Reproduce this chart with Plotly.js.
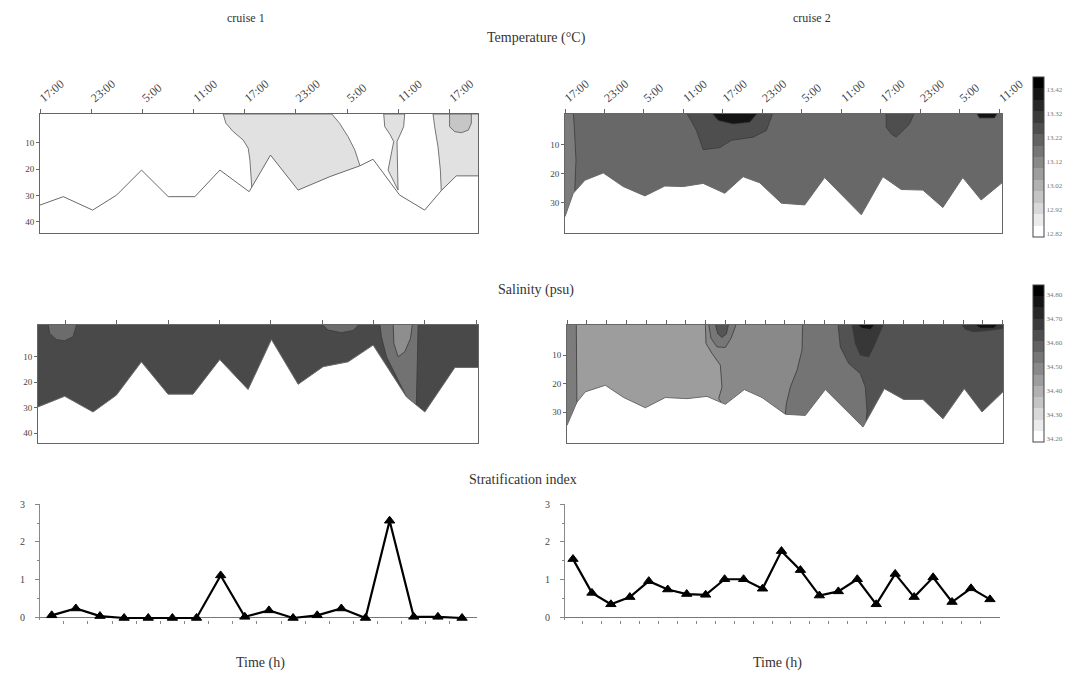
<!DOCTYPE html>
<html><head><meta charset="utf-8">
<script src="https://cdn.plot.ly/plotly-3.0.1.min.js"></script>
<style>body{margin:0;background:#fff}#chart{width:1080px;height:677px}</style>
</head><body><div id="chart"></div>
<script>
// ================= DATA =================
// time axis ticks (hours after first 17:00)
const tickHours1 = [0, 6, 12, 18, 24, 30, 36, 42, 48];
const tickLabels1 = ['17:00','23:00','5:00','11:00','17:00','23:00','5:00','11:00','17:00'];
const tickHours2 = [0, 6, 12, 18, 24, 30, 36, 42, 48, 54, 60, 66];
const tickLabels2 = ['17:00','23:00','5:00','11:00','17:00','23:00','5:00','11:00','17:00','23:00','5:00','11:00'];
const depthTicks1 = [10, 20, 30, 40];
const depthTicks2 = [10, 20, 30];

// colorbar labels
const tempBarLabels = [12.82, 12.92, 13.02, 13.12, 13.22, 13.32, 13.42];
const salBarLabels = [34.20, 34.30, 34.40, 34.50, 34.60, 34.70, 34.80];

// ---- Temperature, cruise 1 (hours, depth m) ----
const t1BottomH = [0,2.73,6.17,8.98,11.9,15.03,18.15,21.08,24.51,27.01,30.25,33.96,37.47,39.03,42.15,45.08,47.03,48.79,51.33];
const t1BottomD = [33.6,30.4,35.5,29.8,20.3,30.4,30.4,20.3,28.5,14.6,27.9,22.8,18.7,16.2,29.8,35.5,28.1,22.5,22.5];
const t1ZoneAH = [21.47,21.78,22.64,23.81,24.4,24.6,24.8,24.8,37.7,37.5,36.9,36.1,35.1,34.2];
const t1ZoneAD = [-1,2.5,5.7,8.9,12.0,16.5,26.0,46,46,18.7,12.7,7.6,2.5,-1];
const t1ZoneBH = [40.28,40.4,41.06,41.45,40.79,41.96,41.84,42.15,42.62,42.74];
const t1ZoneBD = [-1,3.8,7.0,9.5,20.3,27.9,9.5,7.0,3.8,-1];
const t1ZoneCH = [46.06,46.25,46.64,46.92,47.03,47.03,53,53];
const t1ZoneCD = [-1,3.8,11.4,20.3,28.5,46,46,-1];
const t1CoreH = [48.0,48.0,48.6,49.4,50.2,50.55,50.55];
const t1CoreD = [-1,3.8,5.7,6.1,5.1,2.5,-1];

// ---- Temperature, cruise 2 ----
const t2BottomH = [0,1.26,3.03,5.82,8.85,12.14,15.17,17.96,20.99,24.28,27.06,29.59,32.88,36.42,39.45,45.02,48.3,51.09,54.38,57.41,60.44,63.23,66.41];
const t2BottomD = [34.8,26.8,22.3,19.8,24.5,27.7,24.3,24.5,23.4,26.8,21.1,23.2,30.2,30.8,21.4,34.2,21.1,25.5,25.7,31.7,21.4,29.1,23.2];
const t2StripH = [-1,1.26,1.42,1.67,1.52,1.4,-1];
const t2StripD = [-1,-1,4.1,15.5,23.4,45,45];
const t2WarmAH = [18.46,19.98,20.99,23.52,25.29,28.58,30.6,31.61];
const t2WarmAD = [-1,5.2,11.8,11.1,8.6,7.5,5.2,-1];
const t2HotAH = [22.26,23.27,25.54,28.07,29.34];
const t2HotAD = [-1,1.8,3.0,2.4,-1];
const t2WarmBH = [48.81,48.81,49.57,50.33,51.09,52.35,53.11];
const t2WarmBD = [-1,4.1,6.4,7.5,5.8,3.0,-1];
const t2HotBH = [62.47,62.97,65.25,65.75];
const t2HotBD = [-1,0.9,0.9,-1];

// ---- Salinity, cruise 1 ----
const s1BottomH = [0,3.12,6.43,9.15,12.08,15.19,18.11,21.23,24.54,27.27,30.39,33.31,36.23,39.15,43.05,45.19,48.7,51.42];
const s1BottomD = [29.7,25.5,31.7,25.1,12.0,24.7,24.7,11.1,22.9,3.2,20.8,13.9,12.0,5.4,25.8,31.7,14.2,14.2];
const s1FreshAH = [1.17,1.36,2.14,3.12,4.09,4.56];
const s1FreshAD = [-3,0.8,3.2,3.7,2.1,-3];
const s1FreshBH = [33.11,33.89,35.45,36.81,37.59];
const s1FreshBD = [-3,-0.5,0.5,-0.3,-3];
const s1FreshCH = [39.93,40.12,40.71,41.88,43.05,44.0,44.3,44.21,44.29,44.41];
const s1FreshCD = [-3,2.1,10,17.9,25.8,45,45,27.1,11.3,-3];
const s1FreshestH = [41.49,41.57,42.07,42.85,43.51,43.75];
const s1FreshestD = [-3,4.7,10,8.0,2.8,-3];

// ---- Salinity, cruise 2 ----
const s2BottomH = [0,1.52,2.78,5.81,8.59,11.87,14.9,18.18,21.21,23.99,26.87,29.55,33.08,36.11,39.14,44.85,48.08,51.01,53.94,56.97,60.2,62.88,66.06];
const s2BottomD = [34.7,26.5,22.9,20.6,24.9,28.5,24.9,25.3,24.5,27.3,22.1,24.9,30.8,31.2,22.1,35.3,21.8,25.6,25.6,32.4,21.8,30.0,22.9];
const s2Iso1H = [20.96,21.06,21.97,23.23,23.48,22.98,23.64,23.64];
const s2Iso1D = [-1,5.9,9.4,13.5,21.2,25.3,27.6,45];
const s2Iso2H = [35.71,35.61,34.85,33.84,33.23,33.08,33.08];
const s2Iso2D = [-1,8.2,15.3,21.2,27.1,30.8,45];
const s2Iso3H = [41.06,41.41,42.68,44.44,45.2,45.45,45.3,45.3];
const s2Iso3D = [-1,7.1,12.9,16.5,21.2,29.4,34.1,45];
const s2StripH = [-1,1.41,1.5,1.5,-1];
const s2StripD = [-1,-1,26.5,45,45];
const s2PatchH = [21.46,21.82,22.73,23.99,24.85,25.66];
const s2PatchD = [-1,4.1,7.1,7.3,4.1,-1];
const s2PatchCoreH = [22.47,22.83,23.48,24.14,24.49];
const s2PatchCoreD = [-1,2.4,3.8,2.6,-1];
const s2SaltH = [43.18,43.69,44.44,45.71,46.46,47.47,47.98];
const s2SaltD = [-1,5.9,10,10.6,7.1,1.2,-1];
const s2SaltCoreH = [43.94,44.7,45.96,46.72];
const s2SaltCoreD = [-1,0.6,1.0,-1];
const s2SurfH = [59.7,60.35,61.62,63.64,66.06,67,67];
const s2SurfD = [-1,0.9,1.8,1.4,0.6,0.6,-1];
const s2SurfCoreH = [61.62,62.63,64.65,65.4];
const s2SurfCoreD = [-1,0.55,0.55,-1];

// ---- Stratification index ----
const strat1Station = [1,2,3,4,5,6,7,8,9,10,11,12,13,14,15,16,17,18];
const strat1 = [0.07,0.25,0.05,0,0,0,0,1.12,0.03,0.2,0,0.07,0.25,0,2.56,0.03,0.03,0];
const strat2Station = [1,2,3,4,5,6,7,8,9,10,11,12,13,14,15,16,17,18,19,20,21,22,23];
const strat2 = [1.55,0.66,0.36,0.55,0.97,0.75,0.63,0.61,1.02,1.02,0.77,1.76,1.26,0.59,0.70,1.02,0.36,1.16,0.55,1.07,0.42,0.78,0.49];

// ================= LAYOUT HELPERS =================
const W = 1080, H = 677;
const dx = (a, b) => [a / W, b / W];
const dy = (top, bot) => [1 - bot / H, 1 - top / H];
const FONT = 'Liberation Serif, Times New Roman, serif';
const DEEP = 60; // closure depth below the seabed (hidden by the seabed mask)

function poly(h, d, fill, ax, lineColor) {
  return {type: 'scatter', mode: 'lines', x: h.concat([h[0]]), y: d.concat([d[0]]),
    fill: 'toself', fillcolor: fill, line: {color: lineColor || '#3a3a3a', width: 0.8},
    xaxis: ax[0], yaxis: ax[1], hoverinfo: 'skip', showlegend: false};
}
function leftOf(h, d, fill, ax, lineColor) {
  const hh = [-2].concat(h, [h[h.length - 1], -2]);
  const ddd = [d[0]].concat(d, [DEEP, DEEP]);
  return poly(hh, ddd, fill, ax, lineColor);
}
function seabed(h, d, ax) {
  const hh = [-2].concat(h, [h[h.length - 1] + 2, h[h.length - 1] + 2, -2]);
  const ddd = [d[0]].concat(d, [d[d.length - 1], DEEP, DEEP]);
  return {type: 'scatter', mode: 'lines', x: hh, y: ddd, fill: 'toself', fillcolor: '#ffffff',
    line: {color: '#6a6a6a', width: 1}, xaxis: ax[0], yaxis: ax[1], hoverinfo: 'skip', showlegend: false};
}
function stepScale(n) {
  const cs = [];
  for (let i = 0; i < n; i++) {
    const g = Math.round(255 - i * 255 / (n - 1));
    const c = 'rgb(' + g + ',' + g + ',' + g + ')';
    cs.push([i / n, c]); cs.push([(i + 1) / n, c]);
  }
  return cs;
}

const A1 = ['x', 'y'], A2 = ['x2', 'y2'], A3 = ['x3', 'y3'], A4 = ['x4', 'y4'];
const traces = [];

// Temperature cruise 1 (background white)
traces.push(poly(t1ZoneAH, t1ZoneAD, '#e1e1e1', A1, '#555'));
traces.push(poly(t1ZoneBH, t1ZoneBD, '#e1e1e1', A1, '#555'));
traces.push(poly(t1ZoneCH, t1ZoneCD, '#e1e1e1', A1, '#555'));
traces.push(poly(t1CoreH, t1CoreD, '#c6c6c6', A1, '#555'));
traces.push(seabed(t1BottomH, t1BottomD, A1));

// Temperature cruise 2 (background medium dark)
traces.push(poly(t2StripH, t2StripD, '#7c7c7c', A2));
traces.push(poly(t2WarmAH, t2WarmAD, '#4e4e4e', A2));
traces.push(poly(t2HotAH, t2HotAD, '#141414', A2));
traces.push(poly(t2WarmBH, t2WarmBD, '#4e4e4e', A2));
traces.push(poly(t2HotBH, t2HotBD, '#141414', A2));
traces.push(seabed(t2BottomH, t2BottomD, A2));

// Salinity cruise 1 (background dark)
traces.push(poly(s1FreshAH, s1FreshAD, '#6c6c6c', A3));
traces.push(poly(s1FreshBH, s1FreshBD, '#6c6c6c', A3));
traces.push(poly(s1FreshCH, s1FreshCD, '#727272', A3));
traces.push(poly(s1FreshestH, s1FreshestD, '#8e8e8e', A3));
traces.push(seabed(s1BottomH, s1BottomD, A3));

// Salinity cruise 2 (background dark, lighter water masses to the left)
traces.push(leftOf(s2Iso3H, s2Iso3D, '#747474', A4));
traces.push(leftOf(s2Iso2H, s2Iso2D, '#898989', A4));
traces.push(leftOf(s2Iso1H, s2Iso1D, '#9d9d9d', A4));
traces.push(poly(s2StripH, s2StripD, '#7c7c7c', A4));
traces.push(poly(s2PatchH, s2PatchD, '#777777', A4));
traces.push(poly(s2PatchCoreH, s2PatchCoreD, '#555555', A4));
traces.push(poly(s2SaltH, s2SaltD, '#373737', A4));
traces.push(poly(s2SaltCoreH, s2SaltCoreD, '#101010', A4));
traces.push(poly(s2SurfH, s2SurfD, '#373737', A4));
traces.push(poly(s2SurfCoreH, s2SurfCoreD, '#101010', A4));
traces.push(seabed(s2BottomH, s2BottomD, A4));

// Stratification index
const markerStyle = {symbol: 'triangle-up', size: 9, color: '#000', line: {color: '#000', width: 1}};
traces.push({type: 'scatter', mode: 'lines+markers', x: strat1Station, y: strat1, xaxis: 'x5', yaxis: 'y5',
  line: {color: '#000', width: 2.2}, marker: markerStyle, cliponaxis: false, hoverinfo: 'skip', showlegend: false});
traces.push({type: 'scatter', mode: 'lines+markers', x: strat2Station, y: strat2, xaxis: 'x6', yaxis: 'y6',
  line: {color: '#000', width: 2.2}, marker: markerStyle, cliponaxis: false, hoverinfo: 'skip', showlegend: false});

// Colorbars
function barTrace(labels, topPx, botPx, ax) {
  const step = labels[1] - labels[0];
  const pxPerUnit = 24 / step;
  const cmin = labels[0] - 3 / pxPerUnit;
  const cmax = cmin + (botPx - topPx) / pxPerUnit;
  return {type: 'scatter', mode: 'markers', x: [null], y: [null], xaxis: ax[0], yaxis: ax[1], showlegend: false,
    hoverinfo: 'skip',
    marker: {color: [cmin], cmin: cmin, cmax: cmax, colorscale: stepScale(14), showscale: true,
      colorbar: {x: 1033 / W, xanchor: 'left', xref: 'paper', y: 1 - (topPx + botPx) / 2 / H, yanchor: 'middle', yref: 'paper',
        len: botPx - topPx, lenmode: 'pixels', thickness: 11, thicknessmode: 'pixels', xpad: 0, ypad: 0,
        outlinewidth: 1, outlinecolor: '#444', borderwidth: 0,
        tickvals: labels, ticktext: labels.map(v => v.toFixed(2)), ticks: '',
        tickfont: {family: FONT, size: 7, color: '#777'}}}};
}
traces.push(barTrace(tempBarLabels, 77, 237, A2));
traces.push(barTrace(salBarLabels, 285, 442, A4));

// ================= AXES =================
const lineCol = '#666';
function timeAxis(domain, range, vals, text) {
  return {domain: domain, range: range, side: 'top', tickvals: vals, ticktext: text, tickangle: -40,
    ticks: 'outside', ticklen: 4, tickcolor: lineCol, showline: true, mirror: true, linecolor: lineCol, linewidth: 1,
    showgrid: false, zeroline: false, tickfont: {family: FONT, size: 12, color: '#444'}, fixedrange: true};
}
function tickOnlyAxis(domain, range, t0, dt) {
  return {domain: domain, range: range, side: 'top', tick0: t0, dtick: dt, showticklabels: false,
    ticks: 'outside', ticklen: 4, tickcolor: lineCol, showline: true, mirror: true, linecolor: lineCol, linewidth: 1,
    showgrid: false, zeroline: false};
}
function depthAxis(domain, range, vals) {
  return {domain: domain, range: range, tickvals: vals, ticks: 'outside', ticklen: 3, tickcolor: lineCol,
    showline: true, mirror: true, linecolor: lineCol, linewidth: 1, showgrid: false, zeroline: false,
    tickfont: {family: FONT, size: 9, color: '#444'}};
}
function stratX(domain, range, n) {
  const vals = [];
  for (let i = 1; i < n; i++) vals.push(i + 0.5);
  return {domain: domain, range: range, tickvals: vals, showticklabels: false, ticks: 'outside', ticklen: 3,
    tickcolor: '#888', showline: false, showgrid: false, zeroline: false};
}
function stratY(domain) {
  return {domain: domain, range: [-0.04, 3.0], tickvals: [0, 1, 2, 3], ticks: 'outside', ticklen: 4, tickcolor: '#888',
    minor: {dtick: 0.5, ticks: 'outside', ticklen: 2, tickcolor: '#888'},
    showline: true, linecolor: '#888', linewidth: 1, showgrid: false, zeroline: true, zerolinecolor: '#777', zerolinewidth: 1,
    ticklabelstandoff: 8, tickfont: {family: FONT, size: 10, color: '#444'}};
}

const layout = {
  width: W, height: H, margin: {l: 0, r: 0, t: 0, b: 0}, paper_bgcolor: '#fff', plot_bgcolor: 'rgba(0,0,0,0)',
  showlegend: false, hovermode: false, font: {family: FONT, color: '#333'},
  xaxis: timeAxis(dx(40, 478), [0, 51.33], tickHours1, tickLabels1),
  yaxis: Object.assign(depthAxis(dy(114, 233), [44.2, -1.0], depthTicks1), {anchor: 'x'}),
  xaxis2: Object.assign(timeAxis(dx(565, 1002), [0, 66.4], tickHours2, tickLabels2), {anchor: 'y2'}),
  yaxis2: Object.assign(depthAxis(dy(114, 233), [40.45, -0.45], depthTicks2), {anchor: 'x2'}),
  xaxis3: Object.assign(tickOnlyAxis(dx(38, 478), [0, 51.4], 3.2, 6), {anchor: 'y3'}),
  yaxis3: Object.assign(depthAxis(dy(325, 443), [43.9, -2.5], depthTicks1), {anchor: 'x3'}),
  xaxis4: Object.assign(tickOnlyAxis(dx(567, 1003), [0, 66.06], 3, 3), {anchor: 'y4'}),
  yaxis4: Object.assign(depthAxis(dy(325, 443), [40.9, -0.6], depthTicks2), {anchor: 'x4'}),
  xaxis5: Object.assign(stratX(dx(40, 477), [0.515, 18.62], 18), {anchor: 'y5'}),
  yaxis5: Object.assign(stratY(dy(504, 619.5)), {anchor: 'x5'}),
  xaxis6: Object.assign(stratX(dx(565, 1000), [0.578, 23.53], 23), {anchor: 'y6'}),
  yaxis6: Object.assign(stratY(dy(504, 619.5)), {anchor: 'x6'}),
  shapes: [
    {type: 'rect', xref: 'x2 domain', yref: 'y2 domain', x0: 0, x1: 1, y0: 0, y1: 1, fillcolor: '#686868', line: {width: 0}, layer: 'below'},
    {type: 'rect', xref: 'x3 domain', yref: 'y3 domain', x0: 0, x1: 1, y0: 0, y1: 1, fillcolor: '#494949', line: {width: 0}, layer: 'below'},
    {type: 'rect', xref: 'x4 domain', yref: 'y4 domain', x0: 0, x1: 1, y0: 0, y1: 1, fillcolor: '#525252', line: {width: 0}, layer: 'below'}
  ],
  annotations: [
    {text: 'cruise 1', x: 246 / W, y: 1 - 18 / H},
    {text: 'cruise 2', x: 812 / W, y: 1 - 18 / H},
    {text: 'Temperature (°C)', x: 536 / W, y: 1 - 38 / H, size: 14},
    {text: 'Salinity (psu)', x: 536 / W, y: 1 - 290 / H, size: 14},
    {text: 'Stratification index', x: 523 / W, y: 1 - 479 / H, size: 14},
    {text: 'Time (h)', x: 260 / W, y: 1 - 663 / H, size: 14},
    {text: 'Time (h)', x: 777 / W, y: 1 - 663 / H, size: 14}
  ].map(a => ({text: a.text, x: a.x, y: a.y, xref: 'paper', yref: 'paper', xanchor: 'center', yanchor: 'middle',
    showarrow: false, font: {family: FONT, size: a.size || 12, color: '#333'}}))
};

Plotly.newPlot('chart', traces, layout, {staticPlot: true, displayModeBar: false});
</script>
</body></html>
